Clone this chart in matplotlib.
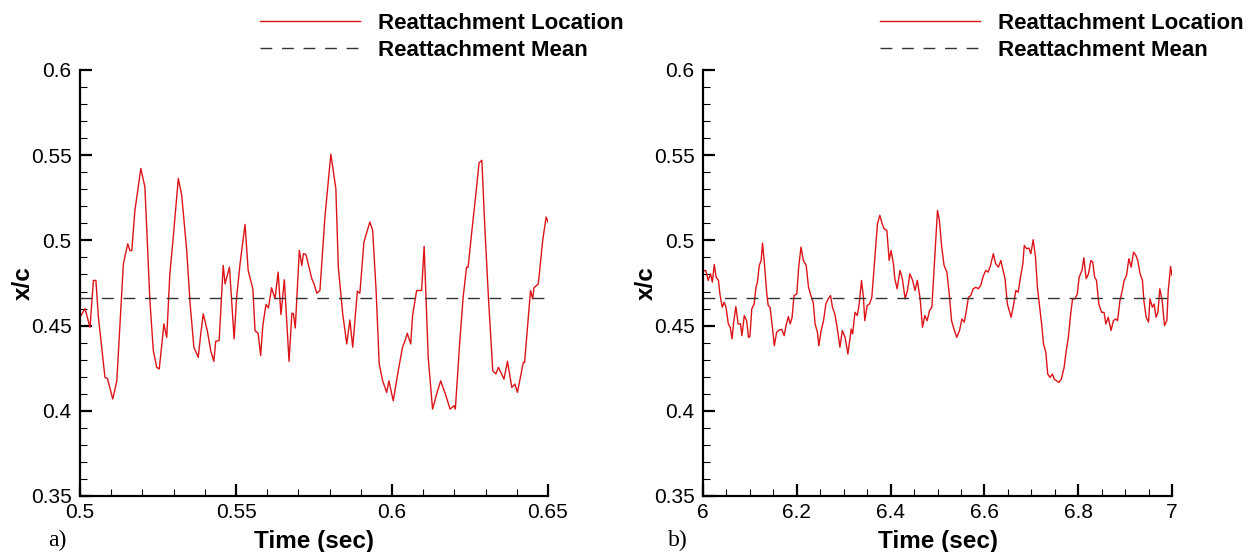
import matplotlib
matplotlib.use('AGG')
from matplotlib import pyplot as plt
from matplotlib.ticker import MultipleLocator

# panel a) - short window
time_a = [0.5000, 0.5016, 0.5032, 0.5043, 0.5051, 0.5059, 0.5080, 0.5088, 0.5105, 0.5118,
          0.5139, 0.5153, 0.5160, 0.5166, 0.5176, 0.5195, 0.5208, 0.5224, 0.5235, 0.5246,
          0.5254, 0.5269, 0.5278, 0.5288, 0.5299, 0.5315, 0.5326, 0.5342, 0.5353, 0.5365,
          0.5379, 0.5387, 0.5395, 0.5408, 0.5419, 0.5429, 0.5435, 0.5446, 0.5459, 0.5465,
          0.5479, 0.5494, 0.5502, 0.5513, 0.5529, 0.5539, 0.5554, 0.5561, 0.5571, 0.5579,
          0.5586, 0.5596, 0.5604, 0.5614, 0.5625, 0.5635, 0.5644, 0.5655, 0.5670, 0.5679,
          0.5684, 0.5690, 0.5703, 0.5711, 0.5716, 0.5724, 0.5743, 0.5750, 0.5759, 0.5769,
          0.5785, 0.5804, 0.5820, 0.5828, 0.5842, 0.5855, 0.5865, 0.5874, 0.5889, 0.5897,
          0.5910, 0.5929, 0.5938, 0.5949, 0.5959, 0.5970, 0.5983, 0.5990, 0.6004, 0.6020,
          0.6034, 0.6042, 0.6049, 0.6060, 0.6066, 0.6079, 0.6095, 0.6103, 0.6116, 0.6130,
          0.6143, 0.6156, 0.6173, 0.6186, 0.6199, 0.6203, 0.6216, 0.6228, 0.6239, 0.6244,
          0.6255, 0.6269, 0.6279, 0.6288, 0.6298, 0.6309, 0.6323, 0.6333, 0.6341, 0.6359,
          0.6370, 0.6384, 0.6394, 0.6402, 0.6421, 0.6425, 0.6436, 0.6444, 0.6451, 0.6455,
          0.6469, 0.6483, 0.6494, 0.6500]
loc_a = [0.455, 0.460, 0.449, 0.4765, 0.4765, 0.455, 0.4196, 0.419, 0.4069, 0.4176,
         0.4863, 0.498, 0.494, 0.494, 0.5176, 0.5422, 0.5314, 0.4647, 0.4353, 0.4255,
         0.4245, 0.451, 0.4431, 0.4804, 0.502, 0.5363, 0.5265, 0.4941, 0.4627, 0.4373,
         0.4314, 0.4451, 0.4569, 0.447, 0.4353, 0.429, 0.4408, 0.4412, 0.4853, 0.4745,
         0.4843, 0.4422, 0.4667, 0.4863, 0.5094, 0.4824, 0.4716, 0.447, 0.4455, 0.4324,
         0.450, 0.4624, 0.4604, 0.4722, 0.4657, 0.4814, 0.4565, 0.4769, 0.429, 0.4573,
         0.457, 0.4486, 0.4941, 0.4853, 0.4922, 0.4918, 0.4775, 0.4745, 0.469, 0.4706,
         0.5137, 0.5506, 0.5304, 0.4843, 0.4569, 0.4392, 0.4533, 0.4373, 0.4702, 0.469,
         0.499, 0.5108, 0.5059, 0.4706, 0.4275, 0.4176, 0.4108, 0.4176, 0.4059, 0.4235,
         0.4376, 0.4412, 0.4455, 0.4392, 0.4559, 0.4706, 0.4706, 0.4965, 0.4314, 0.401,
         0.4098, 0.4176, 0.4088, 0.401, 0.403, 0.401, 0.4373, 0.4667, 0.4843, 0.4843,
         0.5039, 0.5275, 0.5455, 0.547, 0.5059, 0.4667, 0.4235, 0.4216, 0.4255, 0.4186,
         0.429, 0.4137, 0.4157, 0.4108, 0.4284, 0.4284, 0.4529, 0.4706, 0.4657, 0.4722,
         0.4745, 0.500, 0.5137, 0.5108]

# panel b) - long window
time_b = [6.000, 6.006, 6.011, 6.016, 6.020, 6.024, 6.028, 6.033, 6.036, 6.041,
          6.045, 6.049, 6.054, 6.058, 6.062, 6.065, 6.070, 6.075, 6.080, 6.083,
          6.088, 6.093, 6.097, 6.100, 6.104, 6.109, 6.113, 6.116, 6.120, 6.124,
          6.127, 6.131, 6.136, 6.139, 6.143, 6.148, 6.152, 6.157, 6.163, 6.168,
          6.173, 6.177, 6.182, 6.186, 6.190, 6.194, 6.200, 6.204, 6.209, 6.214,
          6.220, 6.225, 6.230, 6.235, 6.239, 6.244, 6.247, 6.252, 6.257, 6.262,
          6.267, 6.272, 6.276, 6.281, 6.286, 6.292, 6.297, 6.303, 6.309, 6.316,
          6.319, 6.324, 6.329, 6.333, 6.338, 6.342, 6.345, 6.350, 6.355, 6.360,
          6.367, 6.372, 6.377, 6.382, 6.386, 6.392, 6.397, 6.401, 6.406, 6.409,
          6.414, 6.420, 6.425, 6.431, 6.436, 6.441, 6.447, 6.452, 6.457, 6.463,
          6.468, 6.473, 6.478, 6.483, 6.488, 6.493, 6.497, 6.500, 6.504, 6.509,
          6.514, 6.520, 6.525, 6.530, 6.535, 6.541, 6.547, 6.552, 6.557, 6.561,
          6.566, 6.571, 6.576, 6.582, 6.587, 6.592, 6.598, 6.603, 6.608, 6.613,
          6.619, 6.624, 6.630, 6.635, 6.640, 6.644, 6.649, 6.653, 6.657, 6.662,
          6.667, 6.672, 6.677, 6.682, 6.685, 6.690, 6.695, 6.699, 6.704, 6.709,
          6.713, 6.717, 6.722, 6.726, 6.731, 6.735, 6.740, 6.745, 6.749, 6.754,
          6.759, 6.764, 6.770, 6.774, 6.779, 6.784, 6.788, 6.793, 6.798, 6.802,
          6.808, 6.812, 6.817, 6.822, 6.827, 6.831, 6.835, 6.839, 6.844, 6.850,
          6.855, 6.859, 6.864, 6.870, 6.875, 6.880, 6.884, 6.889, 6.894, 6.898,
          6.903, 6.908, 6.913, 6.918, 6.923, 6.927, 6.932, 6.937, 6.940, 6.945,
          6.950, 6.953, 6.958, 6.962, 6.966, 6.970, 6.974, 6.979, 6.984, 6.989,
          6.992, 6.997, 7.000]
loc_b = [0.482, 0.4824, 0.4765, 0.4804, 0.4755, 0.4859, 0.4784, 0.4765, 0.4686, 0.4608,
         0.4637, 0.4608, 0.451, 0.449, 0.4422, 0.451, 0.4612, 0.451, 0.451, 0.4441,
         0.4559, 0.4529, 0.4431, 0.4435, 0.4598, 0.4627, 0.4725, 0.4755, 0.4853, 0.4882,
         0.4984, 0.4863, 0.4686, 0.4618, 0.4608, 0.449, 0.4382, 0.4461, 0.4475, 0.4478,
         0.4441, 0.450, 0.4553, 0.451, 0.4549, 0.4676, 0.4686, 0.4843, 0.4961, 0.4882,
         0.4853, 0.4725, 0.4676, 0.4637, 0.451, 0.4461, 0.4382, 0.4471, 0.4529, 0.4627,
         0.4657, 0.4676, 0.4608, 0.4569, 0.449, 0.4373, 0.4471, 0.4431, 0.4333, 0.448,
         0.4451, 0.4578, 0.4559, 0.4627, 0.4765, 0.4667, 0.4529, 0.4618, 0.4627, 0.4667,
         0.4922, 0.5098, 0.5147, 0.5098, 0.5069, 0.5059, 0.4882, 0.4941, 0.4863, 0.4775,
         0.4716, 0.4824, 0.4775, 0.4657, 0.4706, 0.4804, 0.4765, 0.4706, 0.4765, 0.4657,
         0.449, 0.4559, 0.4529, 0.4588, 0.4608, 0.4843, 0.5039, 0.5176, 0.5118, 0.4961,
         0.4853, 0.4814, 0.4686, 0.4529, 0.448, 0.4431, 0.4471, 0.4539, 0.452, 0.4578,
         0.4667, 0.4676, 0.4716, 0.4725, 0.4716, 0.4735, 0.4794, 0.4824, 0.4814, 0.4853,
         0.4922, 0.4863, 0.4843, 0.4882, 0.4824, 0.4775, 0.4627, 0.4588, 0.4549, 0.4618,
         0.4706, 0.4696, 0.4784, 0.4863, 0.4971, 0.4951, 0.4955, 0.4922, 0.5004, 0.4902,
         0.4725, 0.4627, 0.451, 0.4392, 0.4343, 0.4216, 0.4196, 0.4216, 0.4186, 0.4176,
         0.4167, 0.4186, 0.4255, 0.4343, 0.4431, 0.4569, 0.4657, 0.4657, 0.4686, 0.4784,
         0.4824, 0.4898, 0.4775, 0.4804, 0.4882, 0.4873, 0.4784, 0.4765, 0.4627, 0.4578,
         0.4578, 0.451, 0.4549, 0.4471, 0.4529, 0.4539, 0.4529, 0.4647, 0.4706, 0.4765,
         0.4794, 0.4892, 0.4843, 0.4931, 0.4912, 0.4882, 0.4804, 0.4765, 0.4647, 0.4549,
         0.452, 0.4657, 0.4608, 0.4627, 0.4549, 0.4578, 0.4716, 0.4647, 0.450, 0.4529,
         0.4706, 0.4847, 0.4794]

mean_a = 0.466
mean_b = 0.466

plt.rcParams['font.family'] = ['Liberation Sans', 'DejaVu Sans']

W, H = 1257, 552
fig = plt.figure(figsize=(W / 100, H / 100), dpi=100)
red = '#dc1418'


def style_axis(ax):
    for side in ['top', 'right']:
        ax.spines[side].set_visible(False)
    for side in ['left', 'bottom']:
        ax.spines[side].set_linewidth(1.6)
    ax.tick_params(which='major', direction='in', length=8.5, width=1.6, labelsize=15)
    ax.tick_params(which='minor', direction='in', length=5, width=0.8)
    ax.tick_params(axis='x', which='major', pad=5)
    ax.tick_params(axis='y', which='major', pad=6)
    ax.set_ylim(0.35, 0.6)
    ax.yaxis.set_major_locator(MultipleLocator(0.05))
    ax.yaxis.set_minor_locator(MultipleLocator(0.01))
    ax.yaxis.set_major_formatter(plt.FuncFormatter(lambda v, p: ('%g' % round(v, 3))))
    ax.set_xlabel('Time (sec)', fontsize=17.5, fontweight='bold', labelpad=6)
    ax.set_ylabel('x/c', fontsize=17.5, fontweight='bold', labelpad=-3)


panels = [
    (80, 548, time_a, loc_a, mean_a, (0.5, 0.65), 0.05, 0.01, 260, 'a)', 48),
    (703, 1172, time_b, loc_b, mean_b, (6, 7), 0.2, 0.05, 880, 'b)', 668),
]
for x0, x1, t, v, m, xl, maj, mnr, legx, tag, tagx in panels:
    ax = fig.add_axes([x0 / W, 56 / H, (x1 - x0) / W, 426 / H])
    ax.plot(t, v, color=red, lw=1.0, label='Reattachment Location')
    ax.plot(xl, [m, m], color='#333333', lw=1.0, dashes=(8.5, 7),
            label='Reattachment Mean')
    ax.set_xlim(*xl)
    ax.xaxis.set_major_locator(MultipleLocator(maj))
    ax.xaxis.set_minor_locator(MultipleLocator(mnr))
    ax.xaxis.set_major_formatter(plt.FuncFormatter(lambda val, p: ('%g' % round(val, 3))))
    style_axis(ax)
    ax.legend(loc='upper left', bbox_to_anchor=(legx / W, 1 - 13 / H),
              bbox_transform=fig.transFigure, frameon=False, borderpad=0,
              borderaxespad=0, handlelength=4.5, handletextpad=0.8,
              labelspacing=0.28, prop={'weight': 'bold', 'size': 16})
    fig.text(tagx / W, 1 - 540 / H, tag, family=['Liberation Serif', 'DejaVu Serif'],
             fontsize=17, ha='left', va='center')

plt.savefig('out.png', dpi=100)
